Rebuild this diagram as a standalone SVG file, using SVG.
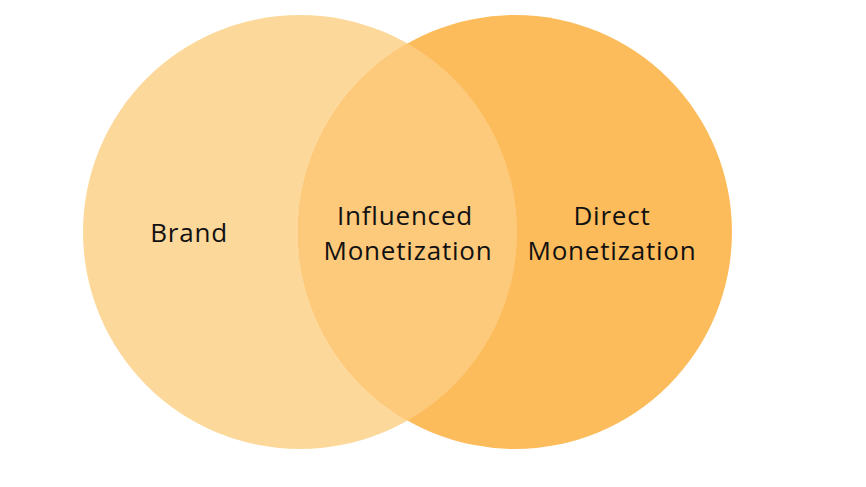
<svg xmlns="http://www.w3.org/2000/svg" width="866" height="487" viewBox="0 0 866 487">
<style>
.lbl{font-family:"Open Sans","Noto Sans","Liberation Sans",sans-serif;font-size:26px;letter-spacing:0.8px;fill:#111;text-anchor:middle}
</style>
<defs>
<clipPath id="rc"><circle cx="515" cy="232" r="217"/></clipPath>
</defs>
<rect width="866" height="487" fill="#fff"/>
<g id="brand">
<circle cx="300" cy="232" r="217" fill="#FDD89B"/>
<text class="lbl" x="189" y="242">Brand</text>
</g>
<g id="direct">
<circle cx="515" cy="232" r="217" fill="#FDBC5B"/>
<text class="lbl" x="612" y="225">Direct</text>
<text class="lbl" x="612" y="260">Monetization</text>
</g>
<g id="influenced">
<circle cx="300" cy="232" r="217" fill="#FDC97B" clip-path="url(#rc)"/>
<text class="lbl" x="405" y="225">Influenced</text>
<text class="lbl" x="408" y="260">Monetization</text>
</g>
<g id="connectors"/>
</svg>
